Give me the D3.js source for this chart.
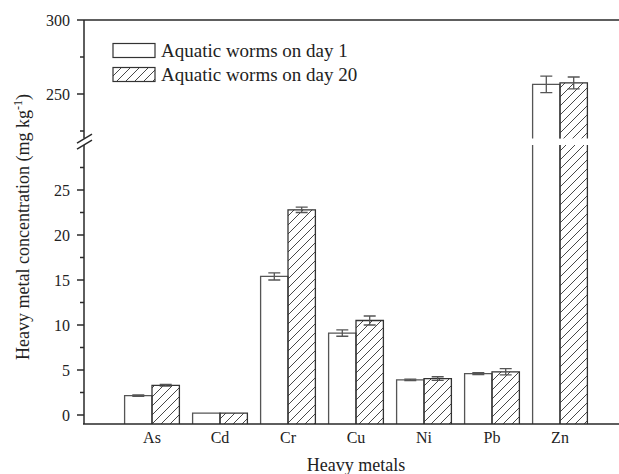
<!DOCTYPE html>
<html lang="en">
<head>
  <meta charset="UTF-8" />
  <title>Heavy metal concentration</title>
  <script src="https://d3js.org/d3.v7.min.js"></script>
  <style>
    body {
      margin: 0;
      background: #fff;
      overflow: hidden;
    }

    svg {
      display: block;
      font-family: "Liberation Serif", "Times New Roman", serif;
    }

    .axis-line {
      stroke: #2a2a2a;
      stroke-width: 1.5px;
      fill: none;
    }

    .tick-label {
      font-size: 16px;
      fill: #222;
    }

    .err {
      stroke: #555;
      stroke-width: 1.3px;
    }
  </style>
</head>
<body>
  <svg width="619" height="474"></svg>
  <script>
    const metals = ["As", "Cd", "Cr", "Cu", "Ni", "Pb", "Zn"];
    const day1 = [2.15, 0.2, 15.4, 9.1, 3.9, 4.6, 256.5];
    const day1Err = [0.07, 0, 0.4, 0.35, 0.08, 0.1, 5.6];
    const day20 = [3.3, 0.2, 22.8, 10.5, 4.05, 4.8, 257.5];
    const day20Err = [0.1, 0, 0.3, 0.5, 0.2, 0.35, 4];
    const lowTicks = [0, 5, 10, 15, 20, 25];
    const lowMinor = [2.5, 7.5, 12.5, 17.5, 22.5, 27.5];
    const highTicks = [250, 300];
    const highMinor = [225, 275];
    const legendLabels = ["Aquatic worms on day 1", "Aquatic worms on day 20"];

    const svg = d3.select("svg");
    const mLeft = 84, mRight = 628, mTop = 20, mBottom = 424;
    const barW = 27.4;

    const x = d3.scalePoint().domain(metals).range([mLeft, mRight]).padding(1);
    // broken y axis: lower part -1..30, upper part 220..300
    const yLow = d3.scaleLinear().domain([-1, 30]).range([mBottom, 145]);
    const yHigh = d3.scaleLinear().domain([220, 300]).range([138.4, mTop]);

    const defs = svg.append("defs");
    defs.append("pattern")
      .attr("id", "hatch")
      .attr("patternUnits", "userSpaceOnUse")
      .attr("width", 9)
      .attr("height", 9)
      .append("path")
      .attr("d", "M0,9 L9,0 M-2,2 L2,-2 M7,11 L11,7")
      .attr("stroke", "#333")
      .attr("stroke-width", 0.9);

    const series = [
      { vals: day1, errs: day1Err, dx: -barW, fill: "#fff", stroke: "#555" },
      { vals: day20, errs: day20Err, dx: 0, fill: "url(#hatch)", stroke: "#333" }
    ];

    const yOf = v => v > 30 ? yHigh(v) : yLow(v);

    const bars = svg.append("g");
    series.forEach(s => {
      metals.forEach((m, i) => {
        const v = s.vals[i];
        const x0 = x(m) + s.dx, x1 = x0 + barW;
        if (v > 30) {
          bars.append("rect").attr("x", x0).attr("width", barW)
            .attr("y", yLow(30)).attr("height", mBottom - yLow(30)).attr("fill", s.fill);
          bars.append("rect").attr("x", x0).attr("width", barW)
            .attr("y", yHigh(v)).attr("height", yHigh(220) - yHigh(v)).attr("fill", s.fill);
          bars.append("path")
            .attr("d", `M${x0},${mBottom}V${yLow(30)}M${x1},${yLow(30)}V${mBottom}` +
              `M${x0},${yHigh(220)}V${yHigh(v)}H${x1}V${yHigh(220)}`)
            .attr("fill", "none").attr("stroke", s.stroke).attr("stroke-width", 1.3);
        } else {
          bars.append("rect").attr("x", x0).attr("width", barW)
            .attr("y", yLow(v)).attr("height", mBottom - yLow(v)).attr("fill", s.fill);
          bars.append("path")
            .attr("d", `M${x0},${mBottom}V${yLow(v)}H${x1}V${mBottom}`)
            .attr("fill", "none").attr("stroke", s.stroke).attr("stroke-width", 1.3);
        }
        const e = s.errs[i];
        if (e > 0) {
          const cx = x0 + barW / 2;
          const ya = yOf(v - e), yb = yOf(v + e);
          bars.append("path").attr("class", "err")
            .attr("fill", "none")
            .attr("d", `M${cx},${ya}V${yb}M${cx - 6},${ya}H${cx + 6}M${cx - 6},${yb}H${cx + 6}`);
        }
      });
    });

    // axes
    const ax = svg.append("g");
    ax.append("path").attr("class", "axis-line")
      .attr("d", `M${mLeft},${mBottom}V${yLow(30)}M${mLeft},${yHigh(220)}V${mTop}`);
    ax.append("path").attr("class", "axis-line")
      .attr("d", `M${mLeft - 1},${mBottom}H${mRight}M${mLeft},${mTop}H${mRight}`);

    // break marks
    const bm = (yHigh(220) + yLow(30)) / 2;
    ax.append("path").attr("class", "axis-line").attr("stroke-width", 1.2)
      .attr("d", `M${mLeft - 7},${bm + 7.5}L${mLeft + 8},${bm - 1.5}M${mLeft - 7},${bm + 1.5}L${mLeft + 8},${bm - 7.5}`);

    const tickMark = (scale, vals, len) => {
      ax.append("g").selectAll("line").data(vals).join("line")
        .attr("class", "axis-line")
        .attr("x1", mLeft - len).attr("x2", mLeft)
        .attr("y1", d => scale(d)).attr("y2", d => scale(d));
    };
    tickMark(yLow, lowTicks, 7);
    tickMark(yLow, lowMinor, 4);
    tickMark(yHigh, highTicks, 7);
    tickMark(yHigh, highMinor, 4);

    const tickText = (scale, vals) => {
      ax.append("g").selectAll("text").data(vals).join("text")
        .attr("class", "tick-label")
        .attr("x", mLeft - 14)
        .attr("y", d => scale(d))
        .attr("dy", "0.35em")
        .attr("text-anchor", "end")
        .text(d => d);
    };
    tickText(yLow, lowTicks);
    tickText(yHigh, highTicks);

    ax.append("g").selectAll("text").data(metals).join("text")
      .attr("class", "tick-label")
      .attr("x", d => x(d))
      .attr("y", 443)
      .attr("text-anchor", "middle")
      .text(d => d);

    // titles
    svg.append("text")
      .attr("x", (mLeft + mRight) / 2)
      .attr("y", 471)
      .attr("text-anchor", "middle")
      .attr("font-size", 18)
      .attr("fill", "#222")
      .text("Heavy metals");

    const yt = svg.append("text")
      .attr("transform", `translate(29,227) rotate(-90)`)
      .attr("text-anchor", "middle")
      .attr("font-size", 18)
      .attr("fill", "#222");
    yt.append("tspan").text("Heavy metal concentration (mg kg");
    yt.append("tspan").attr("font-size", 12).attr("dy", -7).text("-1");
    yt.append("tspan").attr("dy", 7).text(")");

    // legend
    const lg = svg.append("g");
    legendLabels.forEach((t, i) => {
      const ly = 43.5 + i * 24;
      lg.append("rect")
        .attr("x", 113).attr("y", ly)
        .attr("width", 42).attr("height", 14)
        .attr("fill", i === 0 ? "#fff" : "url(#hatch)")
        .attr("stroke", "#333").attr("stroke-width", 1.2);
      lg.append("text")
        .attr("x", 161).attr("y", ly + 13.5)
        .attr("font-size", 19)
        .attr("fill", "#222")
        .text(t);
    });
  </script>
</body>
</html>
